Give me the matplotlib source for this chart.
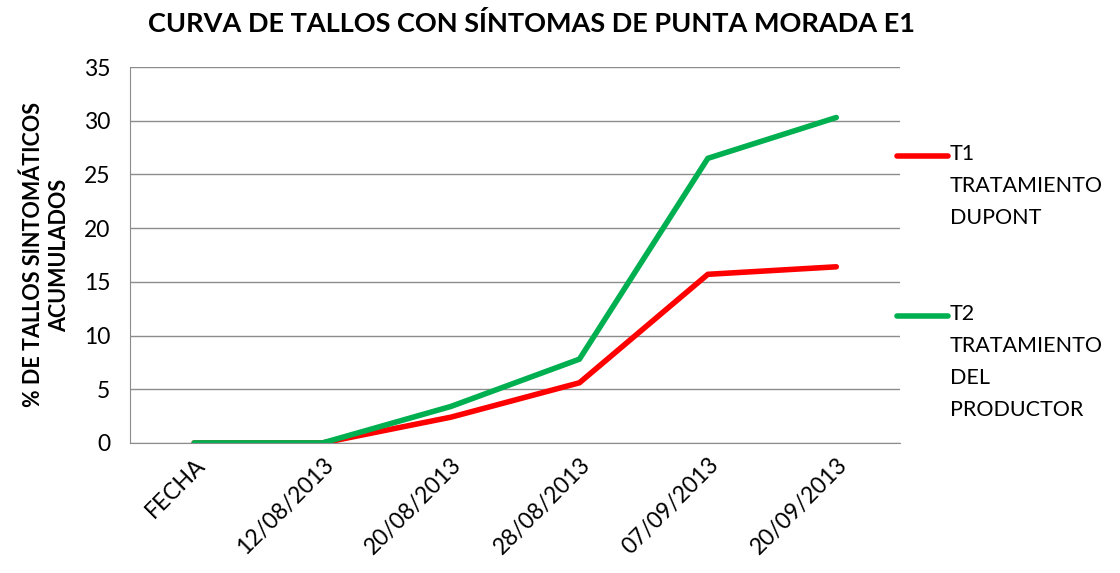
import matplotlib
matplotlib.use("Agg")
import matplotlib.pyplot as plt
from matplotlib.lines import Line2D

# data
fechas = ["FECHA", "12/08/2013", "20/08/2013", "28/08/2013", "07/09/2013", "20/09/2013"]
t1_dupont = [0, 0, 2.4, 5.6, 15.7, 16.4]
t2_productor = [0, 0, 3.4, 7.8, 26.5, 30.3]
etiquetas = ["T1\nTRATAMIENTO\nDUPONT", "T2\nTRATAMIENTO\nDEL\nPRODUCTOR"]
colores = ["#ff0000", "#00b050"]

plt.rcParams["font.family"] = ["Lato", "DejaVu Sans"]

W, H = 1120, 573
fig = plt.figure(figsize=(W / 100, H / 100), dpi=100)
ax = fig.add_axes([0.116, 0.227, 0.688, 0.656])

x = range(len(fechas))
for serie, color in zip([t1_dupont, t2_productor], colores):
    ax.plot(x, serie, color=color, lw=4, solid_capstyle="round")

ax.set_xlim(-0.5, len(fechas) - 0.5)
ax.set_ylim(0, 35)
ax.set_yticks(range(0, 36, 5))
ax.set_xticks(list(x))
ax.set_xticklabels(fechas, rotation=45, ha="right", rotation_mode="anchor")
ax.tick_params(axis="both", labelsize=16.5, length=0)
ax.tick_params(axis="x", pad=8)
ax.tick_params(axis="y", pad=14)

ax.grid(axis="y", color="#8c8c8c", lw=1)
ax.set_axisbelow(True)
for side in ("top", "right"):
    ax.spines[side].set_visible(False)
for side in ("left", "bottom"):
    ax.spines[side].set_color("#8c8c8c")

ax.set_ylabel("% DE TALLOS SINTOMÁTICOS\nACUMULADOS", fontsize=15.5, fontweight="bold",
              linespacing=1.3, labelpad=10)
fig.suptitle("CURVA DE TALLOS CON SÍNTOMAS DE PUNTA MORADA E1", x=0.475, y=0.98,
             fontsize=19.5, fontweight="bold")

# legend drawn by hand to keep the multi-line labels top aligned with the line
for i, (lab, color) in enumerate(zip(etiquetas, colores)):
    y = 1 - (156 + 160 * i) / H
    fig.add_artist(Line2D([897 / W, 948 / W], [y, y], color=color, lw=4,
                          solid_capstyle="round", transform=fig.transFigure))
    fig.text(950 / W, y + 12 / H, lab, fontsize=15.5, va="top", ha="left",
             linespacing=1.75)

fig.savefig("out.png", dpi=100)
